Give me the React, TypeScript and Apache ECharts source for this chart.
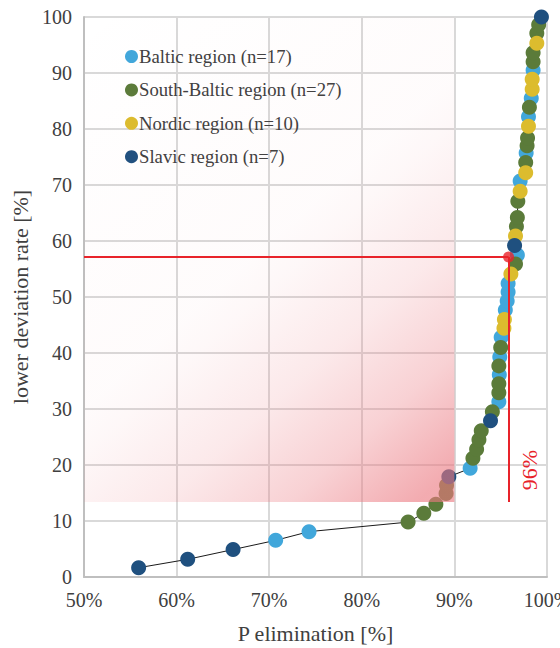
import React, { useEffect, useRef } from "react";
import * as echarts from "echarts";

const FONT = "Liberation Serif";

// [P elimination %, lower deviation rate %]
const baltic: number[][] = [
  [70.7, 6.55], [74.3, 8.1], [91.7, 19.4], [94.8, 31.3], [94.85, 36.1], [94.9, 39.3],
  [95.05, 42.8], [95.5, 47.7], [95.7, 49.3], [95.8, 50.9], [95.8, 52.4], [96.8, 57.5],
  [97.1, 70.7], [97.75, 75.7], [98.0, 82.2], [98.3, 85.5], [98.5, 90.5],
];
const southBaltic: number[][] = [
  [85.0, 9.8], [86.7, 11.4], [88.0, 13.0], [89.1, 14.9], [89.15, 16.4], [92.0, 21.2],
  [92.4, 22.8], [92.65, 24.5], [92.9, 26.1], [94.1, 29.5], [94.8, 32.9], [94.8, 34.5],
  [94.8, 37.7], [95.0, 41.0], [96.6, 55.9], [96.7, 62.6], [96.8, 64.2], [96.85, 67.1],
  [97.7, 74.0], [97.85, 77.0], [97.9, 78.4], [98.1, 83.9], [98.5, 92.0], [98.5, 93.6],
  [98.9, 97.1], [99.1, 98.6],
];
const nordic: number[][] = [
  [95.35, 44.4], [95.4, 46.0], [96.1, 54.1], [96.6, 60.9], [97.1, 68.9], [97.7, 72.2],
  [98.0, 80.5], [98.4, 87.1], [98.4, 88.9], [98.9, 95.3],
];
const slavic: number[][] = [
  [55.9, 1.66], [61.2, 3.16], [66.1, 4.9], [89.4, 17.9], [93.9, 27.9], [96.5, 59.2], [99.4, 100],
];

const seriesNames = [
  "Baltic region (n=17)",
  "South-Baltic region (n=27)",
  "Nordic region (n=10)",
  "Slavic region (n=7)",
];
const seriesColors = ["#41a7db", "#5b7b3a", "#dcbc2e", "#1f507f"];

const cutoff = [95.85, 57.15]; // red threshold point
const shadeBox = [[50, 100], [90, 13.4]];
const cutoffLabel = "96%";
const cutoffLabelPos = [98.1, 19.1];

const xTicks = { min: 50, max: 100, interval: 10 };
const yTicks = { min: 0, max: 100, interval: 10 };

export default function App() {
  const ref = useRef<HTMLDivElement>(null);
  useEffect(() => {
    if (!ref.current) return;
    const chart = echarts.init(ref.current, undefined, { renderer: "svg" });
    const groups = [baltic, southBaltic, nordic, slavic];
    const all = groups.flat().slice().sort((a, b) => a[1] - b[1]);
    const red = "#e8232a";
    const pink = (a: number) => `rgba(235,120,128,${a})`;
    chart.setOption({
      animation: false,
      backgroundColor: "#ffffff",
      textStyle: { fontFamily: FONT },
      grid: { left: 84, right: 13, top: 17, bottom: 71, containLabel: false, outerBoundsMode: "none" },
      legend: {
        data: seriesNames,
        orient: "vertical",
        left: 125,
        top: 47,
        padding: 0,
        itemGap: 14.4,
        icon: "circle",
        itemWidth: 13,
        itemHeight: 13,
        textStyle: { fontFamily: FONT, fontSize: 18.7, color: "#404040", padding: [0, 0, 0, -4] },
      },
      xAxis: {
        type: "value",
        min: xTicks.min,
        max: xTicks.max,
        interval: xTicks.interval,
        name: "P elimination [%]",
        nameLocation: "middle",
        nameGap: 45,
        nameTextStyle: { fontFamily: FONT, fontSize: 22, color: "#404040" },
        axisLine: { show: true, lineStyle: { color: "#bfbfbf", width: 2 } },
        axisTick: { show: false },
        axisLabel: { formatter: "{value}%", fontFamily: FONT, fontSize: 20, color: "#404040", margin: 13 },
        splitLine: { show: true, lineStyle: { color: "#d9d9d9", width: 2 } },
      },
      yAxis: {
        type: "value",
        min: yTicks.min,
        max: yTicks.max,
        interval: yTicks.interval,
        name: "lower deviation rate [%]",
        nameLocation: "middle",
        nameGap: 50,
        nameTextStyle: { fontFamily: FONT, fontSize: 22, color: "#404040" },
        axisLine: { show: true, lineStyle: { color: "#bfbfbf", width: 2 } },
        axisTick: { show: false },
        axisLabel: { fontFamily: FONT, fontSize: 20, color: "#404040", margin: 12 },
        splitLine: { show: true, lineStyle: { color: "#d9d9d9", width: 2 } },
      },
      series: [
        {
          name: "curve",
          type: "line",
          data: all,
          showSymbol: false,
          symbol: "none",
          lineStyle: { color: "#1a1a1a", width: 1 },
          z: 1,
          silent: true,
        },
        ...groups.map((g, i) => ({
          name: seriesNames[i],
          type: "scatter",
          data: g,
          symbolSize: 15,
          itemStyle: { color: seriesColors[i], opacity: 1 },
          z: 2 + i,
        })),
        {
          name: "shade",
          type: "scatter",
          data: [],
          z: 20,
          silent: true,
          markArea: {
            z: 20,
            silent: true,
            itemStyle: {
              color: {
                type: "linear",
                x: 0,
                y: 0,
                x2: 0.753,
                y2: 1.1,
                colorStops: [
                  { offset: 0, color: pink(0) },
                  { offset: 0.5, color: pink(0.027) },
                  { offset: 0.56, color: pink(0.055) },
                  { offset: 0.71, color: pink(0.165) },
                  { offset: 0.855, color: pink(0.34) },
                  { offset: 1, color: pink(0.62) },
                ],
              },
            },
            data: [[{ coord: shadeBox[0] }, { coord: shadeBox[1] }]],
          },
        },
        {
          name: "cutoff",
          type: "scatter",
          data: [cutoff],
          symbolSize: 11,
          itemStyle: { color: red },
          z: 22,
          silent: true,
          markLine: {
            z: 21,
            silent: true,
            symbol: "none",
            label: { show: false },
            lineStyle: { color: red, width: 2, type: "solid" },
            data: [
              [{ coord: [xTicks.min, cutoff[1]] }, { coord: cutoff }],
              [{ coord: cutoff }, { coord: [cutoff[0], shadeBox[1][1]] }],
            ],
          },
          markPoint: {
            z: 23,
            silent: true,
            symbol: "circle",
            symbolSize: 1,
            itemStyle: { color: "rgba(0,0,0,0)" },
            label: {
              show: true,
              position: "inside",
              formatter: cutoffLabel,
              rotate: 90,
              fontFamily: FONT,
              fontSize: 22,
              color: red,
            },
            data: [{ coord: cutoffLabelPos }],
          },
        },
      ],
    });
    return () => chart.dispose();
  }, []);
  return (
    <div
      ref={ref}
      style={{ position: "absolute", left: 0, top: 0, width: 560, height: 648, background: "#fff" }}
    />
  );
}
